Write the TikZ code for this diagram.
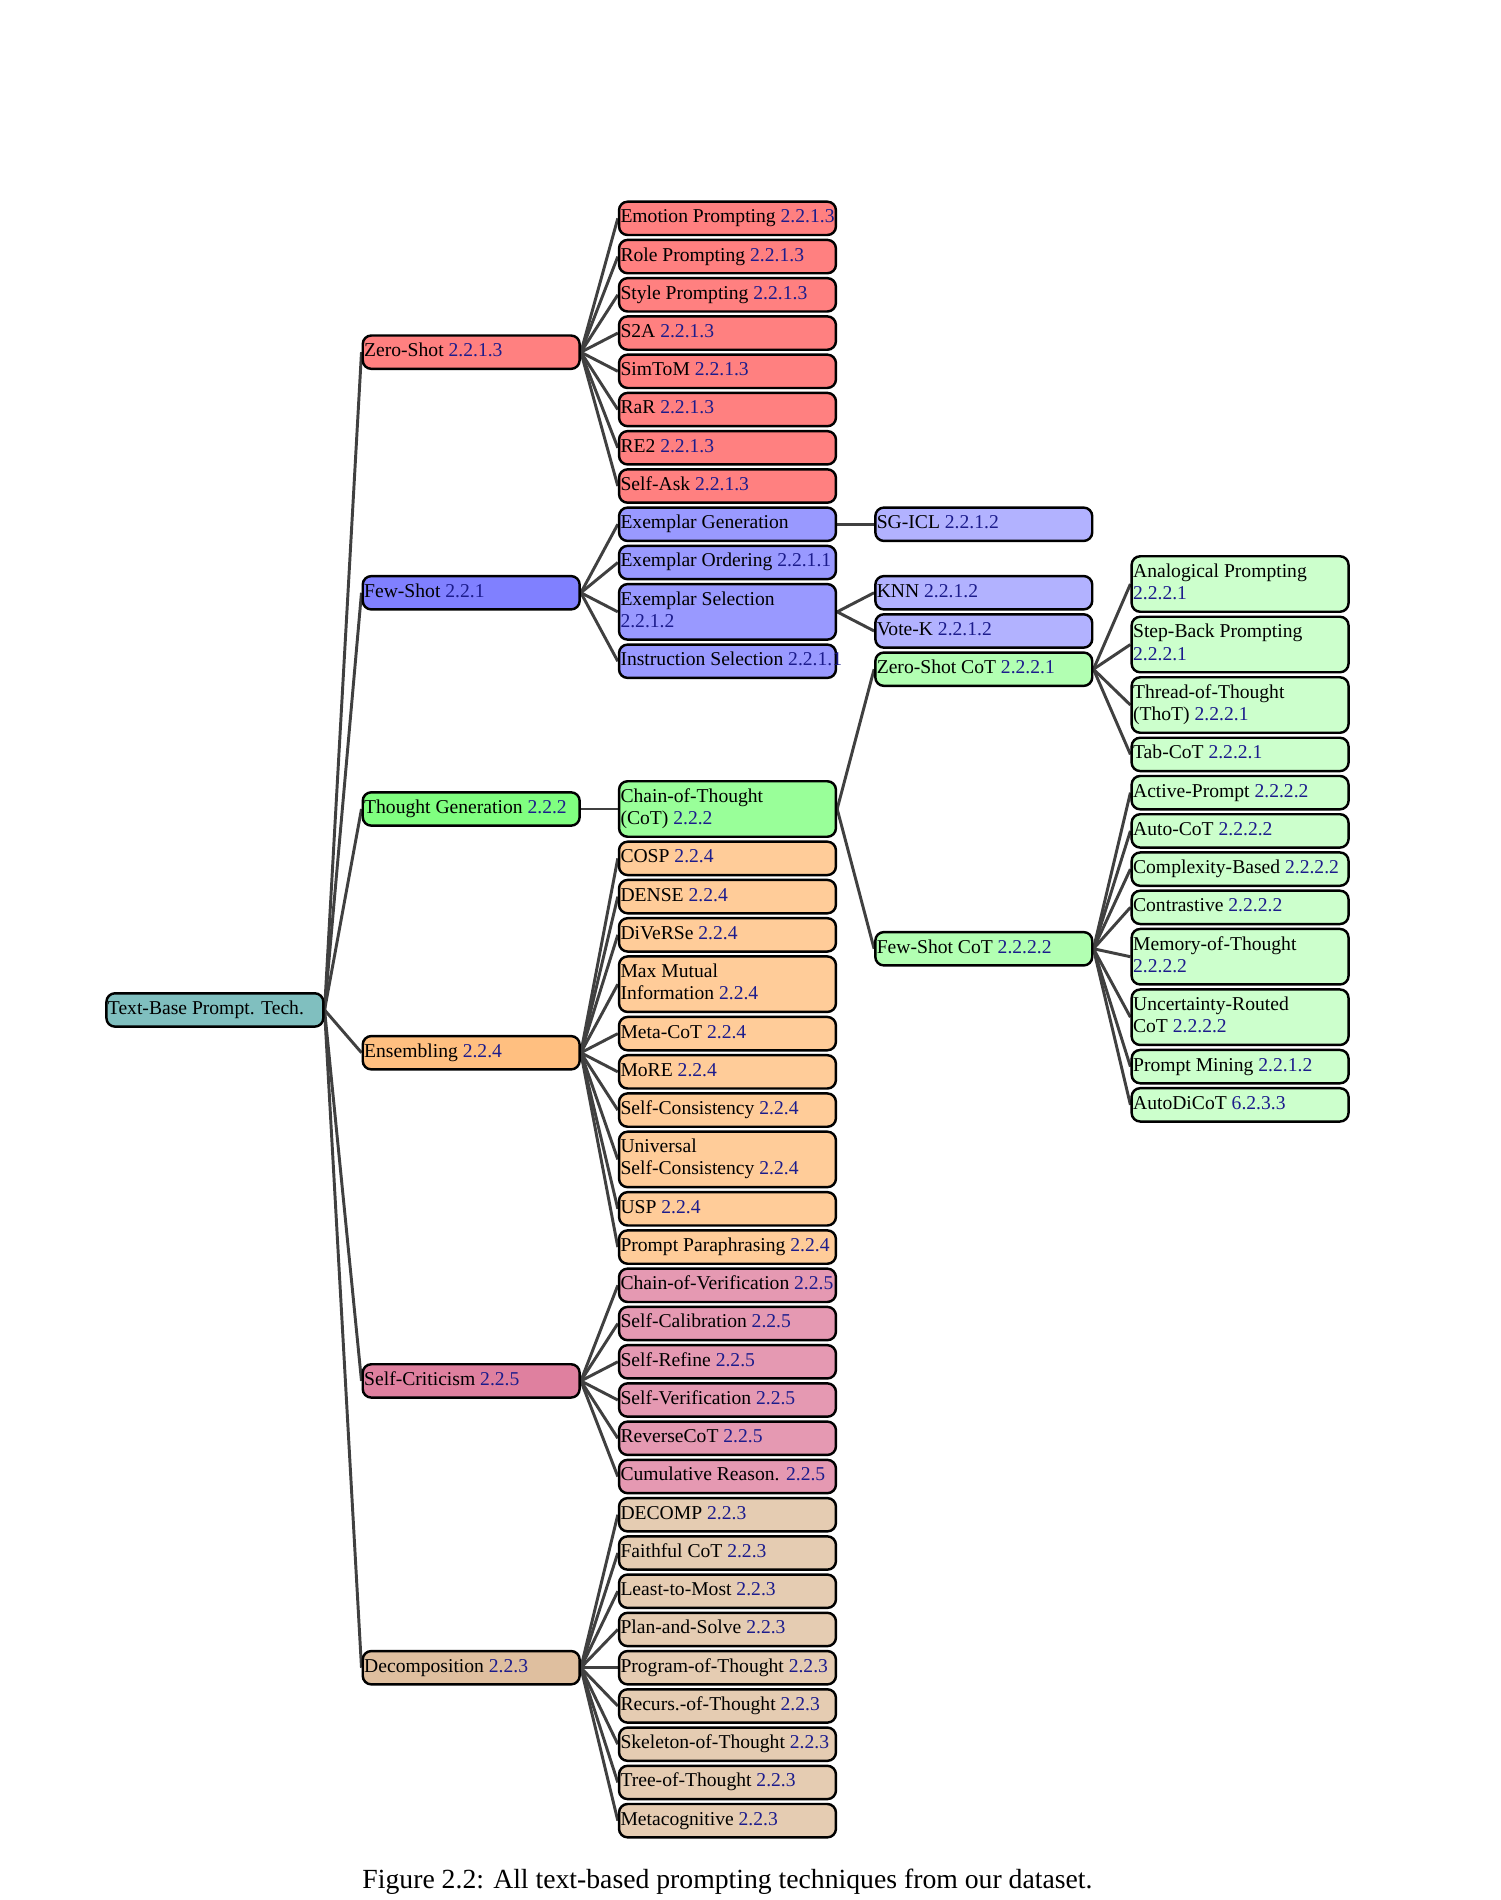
\documentclass[tikz,border=0pt]{standalone}
\usepackage{fontspec}
\setmainfont{Liberation Serif}
\usetikzlibrary{backgrounds}
\definecolor{secnum}{RGB}{28,28,140}
\newlength\bw
\setlength\bw{87.3pt}
\newcommand\snum[1]{{\color{secnum}#1}}
\newcommand\oneln[1]{\hbox to\bw{\strut #1\hss}}
\newcommand\twoln[2]{\vbox{\hbox to\bw{\strut #1\hss}\hbox to\bw{\strut #2\hss}}}
\begin{document}
\begin{tikzpicture}[x=0.408pt,y=-0.408pt,
  box/.style={draw=black, line width=1pt, rounded corners=3.5pt, anchor=west,
    minimum width=88.5pt, minimum height=13.6pt, inner xsep=0.6pt, inner ysep=0pt,
    font=\fontsize{8}{9.06}\selectfont},
  dbl/.style={box, minimum height=22.64pt},
  conn/.style={draw=black!75, line width=1.2pt}]
\path[use as bounding box] (0,0) rectangle (1500,1900);

% root
\node[box, fill=teal!50] (root) at (105.2,1009.95) {\oneln{Text-Base Prompt. Tech.}};

% column 2
\node[box, fill=red!50] (zs) at (361.5,352.19) {\oneln{Zero-Shot \snum{2.2.1.3}}};
\node[box, fill=blue!50] (fs) at (361.5,592.76) {\oneln{Few-Shot \snum{2.2.1}}};
\node[box, fill=green!50] (tg) at (361.5,808.98) {\oneln{Thought Generation \snum{2.2.2}}};
\node[box, fill=orange!50] (ens) at (361.5,1052.72) {\oneln{Ensembling \snum{2.2.4}}};
\node[box, fill=purple!50] (sc) at (361.5,1380.90) {\oneln{Self-Criticism \snum{2.2.5}}};
\node[box, fill=brown!50] (dec) at (361.5,1667.70) {\oneln{Decomposition \snum{2.2.3}}};

% column 3 : zero-shot
\node[box, fill=red!50] (emo) at (617.8,218.35) {\oneln{Emotion Prompting \snum{2.2.1.3}}};
\node[box, fill=red!50] (role) at (617.8,256.59) {\oneln{Role Prompting \snum{2.2.1.3}}};
\node[box, fill=red!50] (style) at (617.8,294.83) {\oneln{Style Prompting \snum{2.2.1.3}}};
\node[box, fill=red!50] (s2a) at (617.8,333.07) {\oneln{S2A \snum{2.2.1.3}}};
\node[box, fill=red!50] (simtom) at (617.8,371.31) {\oneln{SimToM \snum{2.2.1.3}}};
\node[box, fill=red!50] (rar) at (617.8,409.55) {\oneln{RaR \snum{2.2.1.3}}};
\node[box, fill=red!50] (re2) at (617.8,447.79) {\oneln{RE2 \snum{2.2.1.3}}};
\node[box, fill=red!50] (selfask) at (617.8,486.03) {\oneln{Self-Ask \snum{2.2.1.3}}};
% few-shot
\node[box, fill=blue!40] (exgen) at (617.8,524.27) {\oneln{Exemplar Generation}};
\node[box, fill=blue!40] (exord) at (617.8,562.51) {\oneln{Exemplar Ordering \snum{2.2.1.1}}};
\node[dbl, fill=blue!40] (exsel) at (617.8,611.85) {\twoln{Exemplar Selection}{\snum{2.2.1.2}}};
\node[box, fill=blue!40] (instsel) at (617.8,661.25) {\oneln{Instruction Selection \snum{2.2.1.1}}};
% thought generation
\node[dbl, fill=green!40] (cot) at (617.8,808.98) {\twoln{Chain-of-Thought}{(CoT) \snum{2.2.2}}};
% ensembling
\node[box, fill=orange!40] (cosp) at (617.8,858.38) {\oneln{COSP \snum{2.2.4}}};
\node[box, fill=orange!40] (dense) at (617.8,896.62) {\oneln{DENSE \snum{2.2.4}}};
\node[box, fill=orange!40] (diverse) at (617.8,934.86) {\oneln{DiVeRSe \snum{2.2.4}}};
\node[dbl, fill=orange!40] (maxmut) at (617.8,984.20) {\twoln{Max Mutual}{Information \snum{2.2.4}}};
\node[box, fill=orange!40] (metacot) at (617.8,1033.60) {\oneln{Meta-CoT \snum{2.2.4}}};
\node[box, fill=orange!40] (more) at (617.8,1071.84) {\oneln{MoRE \snum{2.2.4}}};
\node[box, fill=orange!40] (selfcons) at (617.8,1110.08) {\oneln{Self-Consistency \snum{2.2.4}}};
\node[dbl, fill=orange!40] (usc) at (617.8,1159.42) {\twoln{Universal}{Self-Consistency \snum{2.2.4}}};
\node[box, fill=orange!40] (usp) at (617.8,1208.82) {\oneln{USP \snum{2.2.4}}};
\node[box, fill=orange!40] (para) at (617.8,1247.06) {\oneln{Prompt Paraphrasing \snum{2.2.4}}};
% self-criticism
\node[box, fill=purple!40] (cov) at (617.8,1285.30) {\oneln{Chain-of-Verification \snum{2.2.5}}};
\node[box, fill=purple!40] (scal) at (617.8,1323.54) {\oneln{Self-Calibration \snum{2.2.5}}};
\node[box, fill=purple!40] (sref) at (617.8,1361.78) {\oneln{Self-Refine \snum{2.2.5}}};
\node[box, fill=purple!40] (sver) at (617.8,1400.02) {\oneln{Self-Verification \snum{2.2.5}}};
\node[box, fill=purple!40] (revcot) at (617.8,1438.26) {\oneln{ReverseCoT \snum{2.2.5}}};
\node[box, fill=purple!40] (cumr) at (617.8,1476.50) {\oneln{Cumulative Reason. \snum{2.2.5}}};
% decomposition
\node[box, fill=brown!40] (decomp) at (617.8,1514.74) {\oneln{DECOMP \snum{2.2.3}}};
\node[box, fill=brown!40] (faith) at (617.8,1552.98) {\oneln{Faithful CoT \snum{2.2.3}}};
\node[box, fill=brown!40] (ltm) at (617.8,1591.22) {\oneln{Least-to-Most \snum{2.2.3}}};
\node[box, fill=brown!40] (pas) at (617.8,1629.46) {\oneln{Plan-and-Solve \snum{2.2.3}}};
\node[box, fill=brown!40] (pot) at (617.8,1667.70) {\oneln{Program-of-Thought \snum{2.2.3}}};
\node[box, fill=brown!40] (rot) at (617.8,1705.94) {\oneln{Recurs.-of-Thought \snum{2.2.3}}};
\node[box, fill=brown!40] (sot) at (617.8,1744.18) {\oneln{Skeleton-of-Thought \snum{2.2.3}}};
\node[box, fill=brown!40] (tot) at (617.8,1782.42) {\oneln{Tree-of-Thought \snum{2.2.3}}};
\node[box, fill=brown!40] (metacog) at (617.8,1820.66) {\oneln{Metacognitive \snum{2.2.3}}};

% column 4
\node[box, fill=blue!30] (sgicl) at (874.1,524.27) {\oneln{SG-ICL \snum{2.2.1.2}}};
\node[box, fill=blue!30] (knn) at (874.1,592.73) {\oneln{KNN \snum{2.2.1.2}}};
\node[box, fill=blue!30] (votek) at (874.1,630.97) {\oneln{Vote-K \snum{2.2.1.2}}};
\node[box, fill=green!30] (zscot) at (874.1,669.21) {\oneln{Zero-Shot CoT \snum{2.2.2.1}}};
\node[box, fill=green!30] (fscot) at (874.1,948.75) {\oneln{Few-Shot CoT \snum{2.2.2.2}}};

% column 5
\node[dbl, fill=green!20] (analog) at (1130.4,584.01) {\twoln{Analogical Prompting}{\snum{2.2.2.1}}};
\node[dbl, fill=green!20] (stepback) at (1130.4,644.51) {\twoln{Step-Back Prompting}{\snum{2.2.2.1}}};
\node[dbl, fill=green!20] (thot) at (1130.4,705.01) {\twoln{Thread-of-Thought}{(ThoT) \snum{2.2.2.1}}};
\node[box, fill=green!20] (tabcot) at (1130.4,754.41) {\oneln{Tab-CoT \snum{2.2.2.1}}};
\node[box, fill=green!20] (active) at (1130.4,792.65) {\oneln{Active-Prompt \snum{2.2.2.2}}};
\node[box, fill=green!20] (autocot) at (1130.4,830.89) {\oneln{Auto-CoT \snum{2.2.2.2}}};
\node[box, fill=green!20] (complex) at (1130.4,869.13) {\oneln{Complexity-Based \snum{2.2.2.2}}};
\node[box, fill=green!20] (contra) at (1130.4,907.37) {\oneln{Contrastive \snum{2.2.2.2}}};
\node[dbl, fill=green!20] (memory) at (1130.4,956.71) {\twoln{Memory-of-Thought}{\snum{2.2.2.2}}};
\node[dbl, fill=green!20] (uncert) at (1130.4,1017.21) {\twoln{Uncertainty-Routed}{CoT \snum{2.2.2.2}}};
\node[box, fill=green!20] (pmining) at (1130.4,1066.61) {\oneln{Prompt Mining \snum{2.2.1.2}}};
\node[box, fill=green!20] (autodicot) at (1130.4,1104.85) {\oneln{AutoDiCoT \snum{6.2.3.3}}};

% caption
\node[anchor=base west, inner sep=0pt, font=\fontsize{11.3}{13.5}\selectfont] (caption) at (362,1888)
  {Figure 2.2: All text-based prompting techniques from our dataset.};

% connectors
\begin{scope}[on background layer]
\foreach \c in {zs,fs,tg,ens,sc,dec} \draw[conn] (root.east) -- (\c.west);
\foreach \c in {emo,role,style,s2a,simtom,rar,re2,selfask} \draw[conn] (zs.east) -- (\c.west);
\foreach \c in {exgen,exord,exsel,instsel} \draw[conn] (fs.east) -- (\c.west);
\draw[conn] (tg.east) -- (cot.west);
\foreach \c in {cosp,dense,diverse,maxmut,metacot,more,selfcons,usc,usp,para} \draw[conn] (ens.east) -- (\c.west);
\foreach \c in {cov,scal,sref,sver,revcot,cumr} \draw[conn] (sc.east) -- (\c.west);
\foreach \c in {decomp,faith,ltm,pas,pot,rot,sot,tot,metacog} \draw[conn] (dec.east) -- (\c.west);
\draw[conn] (exgen.east) -- (sgicl.west);
\foreach \c in {knn,votek} \draw[conn] (exsel.east) -- (\c.west);
\foreach \c in {zscot,fscot} \draw[conn] (cot.east) -- (\c.west);
\foreach \c in {analog,stepback,thot,tabcot} \draw[conn] (zscot.east) -- (\c.west);
\foreach \c in {active,autocot,complex,contra,memory,uncert,pmining,autodicot} \draw[conn] (fscot.east) -- (\c.west);
\end{scope}
\end{tikzpicture}
\end{document}
